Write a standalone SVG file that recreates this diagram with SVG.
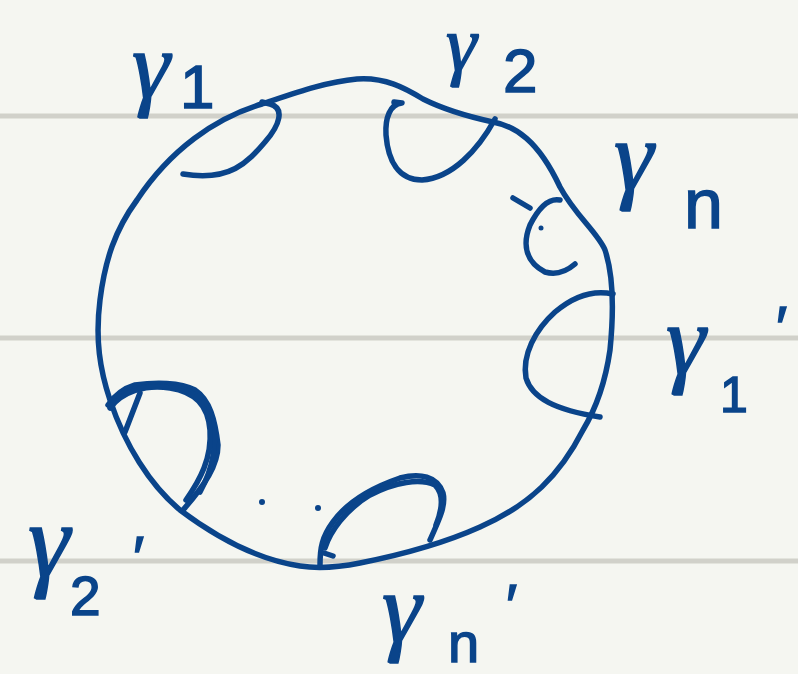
<svg xmlns="http://www.w3.org/2000/svg" width="798" height="674" viewBox="0 0 798 674">
<style>
.rule{stroke:#d1d1ca;stroke-width:5}
.ink{fill:none;stroke:#0a448a;stroke-width:5.5;stroke-linecap:round;stroke-linejoin:round}
.lbl{font-family:"Liberation Sans","DejaVu Sans",sans-serif;fill:#0a448a;stroke:#0a448a;stroke-width:1.5}
.g{font-family:"Liberation Serif","DejaVu Serif",serif;font-style:italic}
</style>
<rect width="798" height="674" fill="#f5f6f1"/>
<g id="rules">
<line class="rule" x1="0" y1="116" x2="798" y2="116"/>
<line class="rule" x1="0" y1="338" x2="798" y2="338"/>
<line class="rule" x1="0" y1="561" x2="798" y2="561"/>
</g>
<g id="outline">
<path class="ink" d="M137,200 C170,150 215,118 262,104 C295,93 325,82 357,79 C385,77 405,88 423,99 C445,110 470,117 493,122 C515,126 538,140 560,187 C575,215 598,233 605,250 C615,280 613,320 610,350 C605,385 595,410 583,430 C560,475 530,505 480,527 C440,545 400,555 360,563 C340,567 320,569 300,566 C260,560 220,540 180,510 C150,485 125,445 110,400 C100,370 95,340 100,300 C105,260 115,230 137,200 Z"/>
</g>
<g id="arcs">
<path class="ink" d="M262,102 L270,104 C285,108 280,125 265,142 C248,162 230,182 183,174"/>
<path class="ink" d="M394,102 L402,103 C390,104 385,118 386,135 C388,160 398,180 422,180 C452,178 478,150 495,119"/>
<path class="ink" d="M513,198 L530,208"/>
<path class="ink" d="M560,200 C550,198 540,205 530,225 C522,245 526,262 545,272 C558,276 568,270 575,264"/>
<circle cx="541" cy="228" r="2.5" fill="#0a448a"/>
<path class="ink" d="M613,294 C595,290 575,295 555,312 C535,330 522,355 526,378 C532,398 555,410 600,417"/>
<path class="ink" d="M108,405 C115,395 125,388 135,385 C155,382 180,382 195,390 C210,400 215,420 218,445 C218,465 205,485 183,510"/>
<path class="ink" d="M112,400 C125,390 140,386 160,386 C185,386 205,395 212,420 C218,445 212,470 200,492"/>
<path class="ink" d="M110,408 C122,392 145,384 170,388 C195,392 208,405 210,430 C212,458 200,480 186,500"/>
<path class="ink" d="M140,393 L125,432"/>
<path class="ink" d="M320,565 C320,548 322,537 333,522 C345,505 365,490 400,478 C420,473 437,476 443,493 C446,505 440,518 430,540"/>
<path class="ink" d="M325,548 C330,532 345,510 370,495 C395,482 420,478 435,485 C445,495 442,510 436,525"/>
<path class="ink" d="M324,553 L333,556"/>
<circle cx="262" cy="502" r="3" fill="#0a448a"/>
<circle cx="318" cy="508" r="3" fill="#0a448a"/>
</g>
<g id="labels">
<text class="lbl g" x="132" y="98" font-size="96">γ</text>
<text class="lbl" x="180" y="108" font-size="62">1</text>
<text class="lbl g" x="446" y="70" font-size="78">γ</text>
<text class="lbl" x="503" y="92" font-size="62">2</text>
<text class="lbl g" x="614" y="190" font-size="100">γ</text>
<text class="lbl" x="684" y="228" font-size="70">n</text>
<text class="lbl g" x="666" y="374" font-size="100">γ</text>
<text class="lbl" x="720" y="412" font-size="50">1</text>
<text class="lbl" x="776" y="348" font-size="60">′</text>
<text class="lbl g" x="28" y="576" font-size="106">γ</text>
<text class="lbl" x="70" y="615" font-size="55">2</text>
<text class="lbl" x="133" y="578" font-size="60">′</text>
<text class="lbl g" x="382" y="642" font-size="100">γ</text>
<text class="lbl" x="448" y="662" font-size="56">n</text>
<text class="lbl" x="506" y="626" font-size="60">′</text>
</g>
</svg>
